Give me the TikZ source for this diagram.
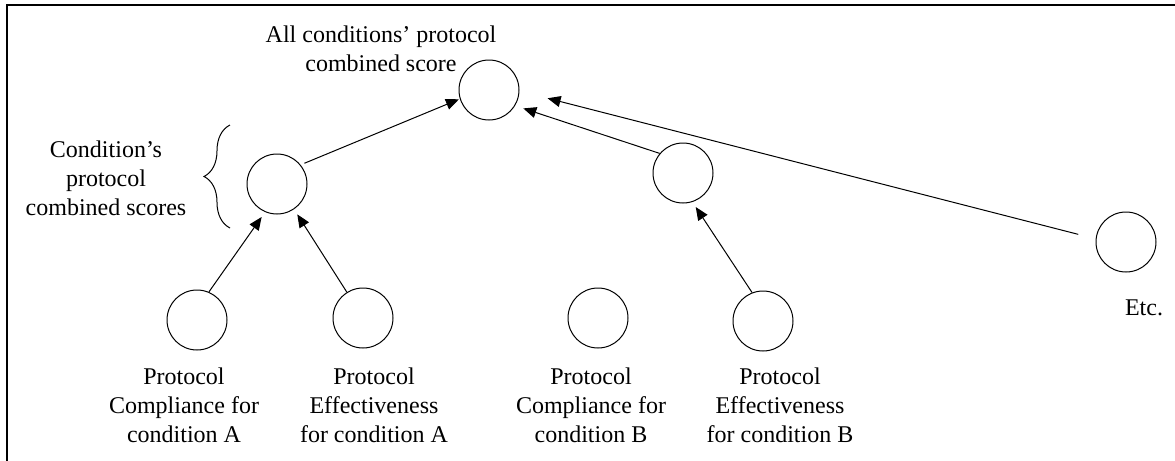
\documentclass[tikz,border=0pt]{standalone}
\usepackage{fontspec}
\setmainfont{Liberation Serif}
\usetikzlibrary{arrows.meta,decorations.pathreplacing}

\begin{document}
\begin{tikzpicture}[x=0.5pt,y=-0.5pt,
  score/.style={draw,circle,minimum size=30pt,inner sep=0pt,line width=0.5pt},
  lbl/.style={align=center,font=\fontsize{12}{14.5}\selectfont},
  arr/.style={-{Triangle[length=6.5pt,width=5.5pt]},line width=0.5pt}]
\useasboundingbox (0,0) rectangle (1175,461);
\draw[line width=1.2pt] (1175,5) -- (7,5) -- (7,461);
% score circles
\node[score] (all) at (489,90) {};
\node[score] (condA) at (277,184) {};
\node[score] (condB) at (683,173) {};
\node[score] (etc) at (1126,242) {};
\node[score] (compA) at (197,320) {};
\node[score] (effA) at (363,318) {};
\node[score] (compB) at (598,318) {};
\node[score] (effB) at (763,321) {};
% labels
\node[lbl] (allLbl) at (381,49) {All conditions’ protocol\\combined score};
\node[lbl] (condLbl) at (106,178) {Condition’s\\protocol\\combined scores};
\node[lbl] (compALbl) at (184,405) {Protocol\\Compliance for\\condition A};
\node[lbl] (effALbl) at (374,405) {Protocol\\Effectiveness\\for condition A};
\node[lbl] (compBLbl) at (591,405) {Protocol\\Compliance for\\condition B};
\node[lbl] (effBLbl) at (780,405) {Protocol\\Effectiveness\\for condition B};
\node[lbl] (etcLbl) at (1144,308) {Etc.};
% brace
\draw[line width=0.5pt,decorate,decoration={brace,amplitude=13pt}] (230,228) -- (230,125);
% arrows
\draw[arr,shorten >=3pt] (compA.67) -- (condA.247);
\draw[arr,shorten >=3pt] (effA.122) -- (condA.304);
\draw[arr,shorten <=2pt,shorten >=0.5pt] (condA.39) -- (all.197);
\draw[arr,shorten >=4.3pt] (condB.140) -- (all.329);
\draw[arr,shorten >=3pt] (effB.111) -- (condB.288);
\draw[arr,shorten <=9pt,shorten >=14.5pt] (etc.174) -- (all.358);
\end{tikzpicture}
\end{document}
